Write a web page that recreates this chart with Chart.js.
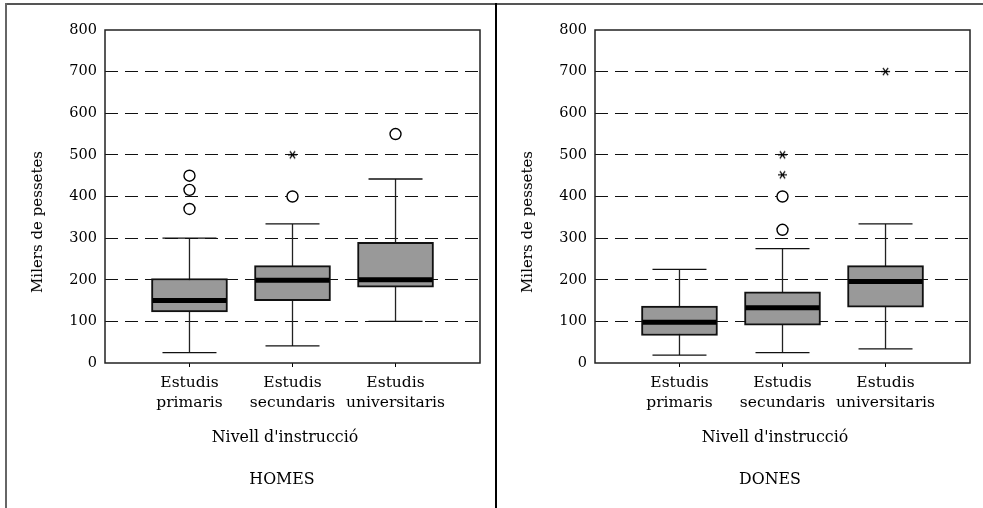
<!DOCTYPE html>
<html>
<head>
<meta charset="utf-8">
<script src="https://cdn.jsdelivr.net/npm/chart.js@4.4.0/dist/chart.umd.min.js"></script>
<style>
  body { margin: 0; background: #fff; }
  #wrap { position: relative; width: 983px; height: 508px; overflow: hidden; font-family: "DejaVu Serif", serif; color: #000; }
  .panel { position: absolute; top: -12px; width: 522px; height: 520px; }
  .rule { position: absolute; z-index: 5; }
  .txt { position: absolute; font-size: 15.8px; white-space: nowrap; transform: translate(-50%, -50%); }
  .ytitle { font-size: 15px; transform: translate(-50%, -50%) rotate(-90deg); }
</style>
</head>
<body>
<div id="wrap">
  <div class="rule" style="left:5px;top:3px;right:0;height:2px;background:#555"></div>
  <div class="rule" style="left:5px;top:3px;bottom:0;width:2px;background:#666"></div>
  <div class="rule" style="left:495px;top:3px;bottom:0;width:2px;background:#000"></div>

  <canvas id="homes" class="panel" style="left:0" width="522" height="520"></canvas>
  <canvas id="dones" class="panel" style="left:490px" width="522" height="520"></canvas>

  <div class="txt ytitle" style="left:37px;top:222px">Milers de pessetes</div>
  <div class="txt" style="left:285px;top:436px">Nivell d'instrucció</div>
  <div class="txt" style="left:282px;top:478px">HOMES</div>

  <div class="txt ytitle" style="left:527px;top:222px">Milers de pessetes</div>
  <div class="txt" style="left:775px;top:436px">Nivell d'instrucció</div>
  <div class="txt" style="left:770px;top:478px">DONES</div>
</div>
<script>
// categories and ticks
var categories = [["Estudis", "primaris"], ["Estudis", "secundaris"], ["Estudis", "universitaris"]];
var yTicks = [0, 100, 200, 300, 400, 500, 600, 700, 800];

// HOMES (milers de pessetes)
var homesLow = [25, 41, 100];
var homesQ1 = [123, 150, 182];
var homesMedian = [150, 199, 200];
var homesQ3 = [203, 234, 290];
var homesHigh = [300, 334, 442];
var homesOutliers = [[370, 416, 450], [400], [550]];
var homesExtremes = [[], [500], []];

// DONES
var donesLow = [19, 25, 34];
var donesQ1 = [66, 91, 134];
var donesMedian = [98, 133, 196];
var donesQ3 = [137, 171, 234];
var donesHigh = [225, 275, 334];
var donesOutliers = [[], [320, 400], []];
var donesExtremes = [[], [452, 500], [700]];

var FONT = { family: "DejaVu Serif", size: 14.5 };

// six-armed asterisk used for extreme values
function makeAsterisk() {
    var c = document.createElement('canvas');
    c.width = 11; c.height = 11;
    var g = c.getContext('2d');
    g.strokeStyle = '#000';
    g.lineWidth = 1.2;
    [0, 55, 125].forEach(function(a) {
        var r = a * Math.PI / 180;
        g.beginPath();
        g.moveTo(5.5 - Math.cos(r) * 4.5, 5.5 - Math.sin(r) * 4.5);
        g.lineTo(5.5 + Math.cos(r) * 4.5, 5.5 + Math.sin(r) * 4.5);
        g.stroke();
    });
    return c;
}
var asterisk = makeAsterisk();

var frame = {
    id: 'frame',
    afterDraw: function(chart) {
        var a = chart.chartArea, ctx = chart.ctx;
        ctx.save();
        ctx.strokeStyle = '#222';
        ctx.lineWidth = 1.5;
        ctx.strokeRect(a.left, a.top, a.right - a.left, a.bottom - a.top);
        ctx.restore();
    }
};

function points(lists) {
    var out = [];
    lists.forEach(function(list, i) {
        list.forEach(function(v) { out.push({ x: i + 1, y: v }); });
    });
    return out;
}

function makeChart(id, low, q1, med, q3, high, outliers, extremes) {
    var stems = [];
    var caps = [];
    categories.forEach(function(c, i) {
        stems.push({ x: i + 1, y: low[i] }, { x: i + 1, y: high[i] }, { x: i + 1, y: null });
        caps.push([low[i], high[i]]);
    });
    new Chart(document.getElementById(id), {
        type: 'bar',
        data: {
            datasets: [
                {
                    type: 'line', data: stems, borderColor: '#222', borderWidth: 1.3,
                    pointRadius: 0, spanGaps: false, order: 4
                },
                {
                    type: 'bar',
                    data: categories.map(function(c, i) { return { x: i + 1, y: [q1[i], q3[i]] }; }),
                    backgroundColor: '#999999', borderColor: '#111', borderWidth: 2,
                    borderSkipped: false, barThickness: 76, order: 3
                },
                {
                    type: 'scatter',
                    data: categories.map(function(c, i) { return { x: i + 1, y: med[i] }; }),
                    pointStyle: 'line', pointRadius: 37, borderColor: '#000', borderWidth: 5, order: 2
                },
                {
                    type: 'scatter', data: points(caps),
                    pointStyle: 'line', pointRadius: 27, borderColor: '#111', borderWidth: 1.3, order: 1
                },
                {
                    type: 'scatter', data: points(outliers),
                    pointStyle: 'circle', pointRadius: 5.5, borderColor: '#000', borderWidth: 1.4,
                    backgroundColor: '#fff', order: 0
                },
                {
                    type: 'scatter', data: points(extremes),
                    pointStyle: asterisk, order: 0
                }
            ]
        },
        options: {
            responsive: false,
            animation: false,
            layout: { padding: { top: 42, right: 42, left: 0, bottom: 0 } },
            plugins: { legend: { display: false }, tooltip: { enabled: false } },
            scales: {
                x: {
                    type: 'linear', min: 0.18, max: 3.82, offset: false,
                    afterBuildTicks: function(s) { s.ticks = categories.map(function(c, i) { return { value: i + 1 }; }); },
                    afterFit: function(s) { s.height = 145; },
                    grid: { offset: false, drawOnChartArea: false, drawTicks: true, tickLength: 4, color: '#000' },
                    border: { display: false },
                    ticks: {
                        callback: function(v) { return categories[v - 1]; },
                        font: { family: FONT.family, size: 15.5, lineHeight: 1.3 },
                        color: '#000', padding: 6, maxRotation: 0, autoSkip: false
                    }
                },
                y: {
                    min: 0, max: 800,
                    afterBuildTicks: function(s) { s.ticks = yTicks.map(function(v) { return { value: v }; }); },
                    afterFit: function(s) { s.width = 105; },
                    grid: {
                        drawTicks: false, lineWidth: 1,
                        color: function(ctx) {
                            var v = ctx.tick && ctx.tick.value;
                            return (v === 0 || v === 800) ? 'rgba(0,0,0,0)' : '#111';
                        }
                    },
                    border: { display: false, dash: [13, 7] },
                    ticks: { color: '#000', font: FONT, padding: 8 }
                }
            }
        },
        plugins: [frame]
    });
}

makeChart('homes', homesLow, homesQ1, homesMedian, homesQ3, homesHigh, homesOutliers, homesExtremes);
makeChart('dones', donesLow, donesQ1, donesMedian, donesQ3, donesHigh, donesOutliers, donesExtremes);
</script>
</body>
</html>
